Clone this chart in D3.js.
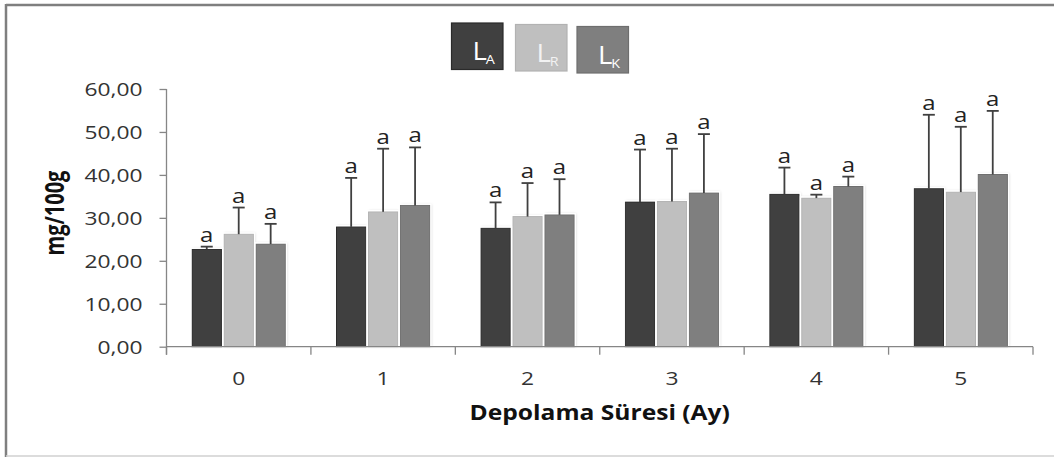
<!DOCTYPE html>
<html><head><meta charset="utf-8">
<script src="https://cdn.jsdelivr.net/npm/d3@7"></script>
<style>html,body{margin:0;padding:0;background:#fff;}svg{display:block;}</style>
</head><body>
<svg id="c" width="1054" height="457"></svg>
<script>
const categories = ["0","1","2","3","4","5"];
const seriesKeys = ["LA","LR","LK"];
const seriesSub = ["A","R","K"];
const meanLA = [22.65, 27.9, 27.6, 33.7, 35.5, 36.8];
const meanLR = [26.2, 31.4, 30.3, 33.8, 34.6, 36.0];
const meanLK = [23.9, 32.9, 30.7, 35.8, 37.3, 40.1];
const sdLA = [0.65, 11.4, 6.0, 12.2, 6.2, 17.2];
const sdLR = [6.2, 14.7, 7.8, 12.3, 0.8, 15.2];
const sdLK = [4.7, 13.5, 8.3, 13.7, 2.3, 14.8];
const sigLA = ["a","a","a","a","a","a"];
const sigLR = ["a","a","a","a","a","a"];
const sigLK = ["a","a","a","a","a","a"];
const yTicks = [0,10,20,30,40,50,60];

(function(){
const means = {LA: meanLA, LR: meanLR, LK: meanLK};
const sds = {LA: sdLA, LR: sdLR, LK: sdLK};
const sigs = {LA: sigLA, LR: sigLR, LK: sigLK};
const fills = {LA:"#404040", LR:"#bfbfbf", LK:"#7f7f7f"};
const strokes = {LA:"#2a2a2a", LR:"#b2b2b2", LK:"#6e6e6e"};

const svg = d3.select("#c");
const SX = 1.2;
const pL = 166.5, pR = 1033, pT = 89, pB = 346.7;

svg.append("line").attr("x1",6).attr("x2",1054).attr("y1",5).attr("y2",5).attr("stroke","#7f7f7f").attr("stroke-width",2.5);
svg.append("line").attr("x1",6).attr("x2",6).attr("y1",4).attr("y2",457).attr("stroke","#7f7f7f").attr("stroke-width",2.5);
svg.append("line").attr("x1",6).attr("x2",1054).attr("y1",456).attr("y2",456).attr("stroke","#d0d0d0").attr("stroke-width",1.5);

const defs = svg.append("defs");
const f = defs.append("filter").attr("id","sh").attr("x","-20%").attr("y","-20%").attr("width","140%").attr("height","140%");
f.append("feDropShadow").attr("dx",1.2).attr("dy",-0.5).attr("stdDeviation",1.2).attr("flood-color","#000").attr("flood-opacity",0.2);

const x0 = d3.scaleBand().domain(categories).range([pL, pR]).paddingInner(0).paddingOuter(0);
const x1 = d3.scaleBand().domain(seriesKeys).range([0, x0.bandwidth()]).paddingInner(0.08).paddingOuter(0.8);
const y = d3.scaleLinear().domain([0,60]).range([pB, pT]);

function stretchedText(g, x, yy, txt) {
  return g.append("text").attr("transform", `translate(${x},${yy}) scale(${SX},1)`).text(txt);
}

const gBars = svg.append("g");
seriesKeys.forEach(k => {
  categories.forEach((c, i) => {
    const bx = x0(c) + x1(k);
    gBars.append("rect")
      .attr("x", bx).attr("y", y(means[k][i]))
      .attr("width", x1.bandwidth()).attr("height", y(0) - y(means[k][i]))
      .attr("fill", fills[k]).attr("stroke", strokes[k]).attr("stroke-width", 1)
      .attr("filter","url(#sh)");
  });
});
seriesKeys.forEach(k => {
  categories.forEach((c, i) => {
    const bx = x0(c) + x1(k);
    gBars.append("rect")
      .attr("x", bx - 1.2).attr("y", y(means[k][i]) - 1.2)
      .attr("width", x1.bandwidth() + 2.4).attr("height", y(0) - y(means[k][i]) + 1.2)
      .attr("fill", "none").attr("stroke", "#fff").attr("stroke-width", 1.4);
  });
});

const gErr = svg.append("g");
seriesKeys.forEach(k => {
  categories.forEach((c, i) => {
    const cx = x0(c) + x1(k) + x1.bandwidth()/2;
    const yt = y(means[k][i] + sds[k][i]);
    gErr.append("line").attr("x1",cx).attr("x2",cx).attr("y1",y(means[k][i])).attr("y2",yt)
      .attr("stroke","#404040").attr("stroke-width",1.8);
    gErr.append("line").attr("x1",cx-6).attr("x2",cx+6).attr("y1",yt).attr("y2",yt)
      .attr("stroke","#404040").attr("stroke-width",1.8);
    stretchedText(gErr, cx, yt - 5, sigs[k][i])
      .attr("text-anchor","middle").attr("font-family","Open Sans").attr("font-size",20).attr("fill","#222");
  });
});

const yAxis = svg.append("g").attr("transform",`translate(${pL},0)`)
  .call(d3.axisLeft(y).tickValues(yTicks).tickSize(7).tickSizeOuter(0).tickFormat(d => d3.format(".2f")(d).replace(".",",")));
yAxis.select(".domain").attr("stroke","#868686").attr("stroke-width",1.3).attr("d",`M0,${pT}V${pB+8}`);
yAxis.selectAll(".tick line").attr("stroke","#868686").attr("stroke-width",1.3);
yAxis.selectAll(".tick text").each(function(){
  const t = d3.select(this); const txt = t.text();
  const g = d3.select(this.parentNode);
  t.remove();
  stretchedText(g, -24, 0, txt).attr("text-anchor","end").attr("dy","0.36em")
    .attr("font-family","Open Sans").attr("font-size",19).attr("fill","#333");
});

const xAxis = svg.append("g").attr("transform",`translate(0,${pB})`);
xAxis.append("line").attr("x1",pL).attr("x2",pR).attr("y1",0).attr("y2",0).attr("stroke","#868686").attr("stroke-width",1.3);
categories.concat(["_end"]).forEach((c, i) => {
  const xx = i < categories.length ? x0(c) : pR;
  xAxis.append("line").attr("x1",xx).attr("x2",xx).attr("y1",0).attr("y2",8).attr("stroke","#868686").attr("stroke-width",1.3);
});
categories.forEach(c => {
  stretchedText(xAxis, x0(c) + x0.bandwidth()/2, 38.5, c).attr("text-anchor","middle")
    .attr("font-family","Open Sans").attr("font-size",19).attr("fill","#333");
});

stretchedText(svg, (pL+pR)/2, 420, "Depolama Süresi (Ay)").attr("text-anchor","middle")
  .attr("font-family","Open Sans").attr("font-weight","bold").attr("font-size",20.5).attr("fill","#111");
svg.append("text").attr("transform",`translate(64,213) scale(1.3,1) rotate(-90)`).attr("text-anchor","middle")
  .attr("font-family","Open Sans").attr("font-weight","bold").attr("font-size",20).attr("fill","#111").text("mg/100g");

const legX = [451.5, 515.5, 577];
const legY = [23, 24.5, 26.5];
const gL = svg.append("g");
seriesKeys.forEach((k, i) => {
  gL.append("rect").attr("x", legX[i]).attr("y", legY[i]).attr("width", 51.5).attr("height", 46.5)
    .attr("fill", fills[k]).attr("stroke", strokes[k]).attr("stroke-width", 1.2);
  const t = gL.append("text").attr("transform",`translate(${legX[i]+21},${legY[i]+37}) scale(1.1,1)`)
    .attr("font-family","Open Sans").attr("font-size",25).attr("fill", i===1 ? "#f2f2f2" : "#ffffff");
  t.append("tspan").text("L");
  t.append("tspan").attr("font-size",13).attr("dy",4).attr("dx",-1).text(seriesSub[i]);
});
})();
</script>
</body></html>
